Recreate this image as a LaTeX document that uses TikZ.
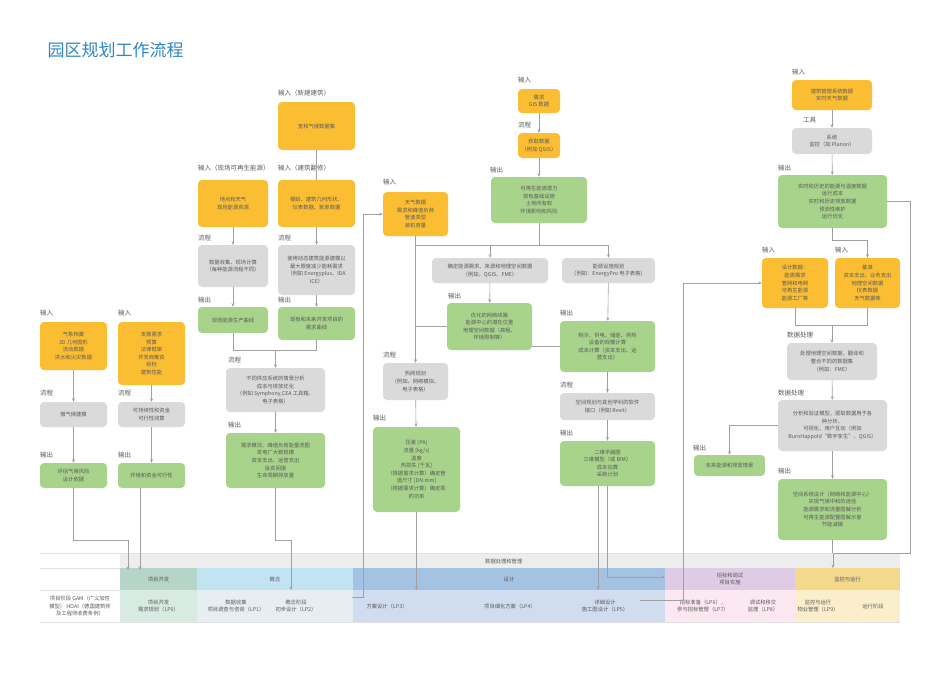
\documentclass[tikz,border=0pt]{standalone}
\usepackage{fontspec}
\newfontfamily\cjk{Noto Sans CJK SC}
\usetikzlibrary{arrows.meta,calc}
\definecolor{cOrange}{HTML}{FBBE33}
\definecolor{cGrey}{HTML}{DADADA}
\definecolor{cGreen}{HTML}{A8D38B}
\definecolor{cText}{HTML}{5A5A5A}
\definecolor{cLine}{HTML}{A0A0A0}
\definecolor{cTitle}{HTML}{2F86C6}
\definecolor{pDev}{HTML}{B5D5C8}
\definecolor{pCon}{HTML}{C2E3F2}
\definecolor{pDes}{HTML}{A4C2E2}
\definecolor{pTen}{HTML}{E0CBE4}
\definecolor{pOps}{HTML}{F4D98C}
\definecolor{qDev}{HTML}{D8EBE3}
\definecolor{qCon}{HTML}{E6EEF4}
\definecolor{qDes}{HTML}{D0DDF0}
\definecolor{qTen}{HTML}{FCE8F1}
\definecolor{qOps}{HTML}{FBEFCB}
\tikzset{
    box/.style={rounded corners=4pt, align=center, text=cText, inner sep=1pt, font=\cjk\fontsize{5.3}{7.6}\selectfont},
    ibox/.style={box, fill=cOrange},
    pbox/.style={box, fill=cGrey},
    obox/.style={box, fill=cGreen},
    lab/.style={anchor=west, text=cText, inner sep=0pt, font=\cjk\fontsize{6.5}{8}\selectfont},
    cell/.style={align=center, text=cText, inner sep=0pt, font=\cjk\fontsize{5.3}{7.6}\selectfont},
    line/.style={draw=cLine, line width=0.6pt},
    arr/.style={line, -{Stealth[length=3.5pt,width=3pt]}},
}
\begin{document}
\begin{tikzpicture}[x=1pt,y=-1pt]
    \useasboundingbox[fill=white] (0,0) rectangle (950,672);
    \node[anchor=west, text=cTitle, font=\cjk\fontsize{17}{20}\selectfont] (title) at (44,50) {园区规划工作流程};

    % left columns
    \node[lab] at (40,313) {输入};
    \node[ibox, minimum width=67, minimum height=48] (climate) at (73.5,346) {气象档案\\3D 几何图形\\流动数据\\洪水和火灾数据};
    \node[lab] at (40,393) {流程};
    \node[pbox, minimum width=67, minimum height=25] (micro) at (73.5,414.5) {微气候建模};
    \node[lab] at (40,455) {输出};
    \node[obox, minimum width=67, minimum height=25] (risk) at (73.5,475.5) {评估气候风险\\设计依据};
    \node[lab] at (118,313) {输入};
    \node[ibox, minimum width=67, minimum height=63] (brief) at (151.5,353.5) {发展需求\\预算\\法律框架\\开发商筹资\\目标\\建筑性能};
    \node[lab] at (118,393) {流程};
    \node[pbox, minimum width=67, minimum height=25] (sustain) at (151.5,414.5) {可持续性和资金\\可行性测算};
    \node[lab] at (118,455) {输出};
    \node[obox, minimum width=67, minimum height=25] (feas) at (151.5,475.5) {环境和资金可行性};

    % buildings and renewables
    \node[lab] at (198,168) {输入（现场可再生能源）};
    \node[ibox, minimum width=70, minimum height=47] (site) at (233,203.5) {地点和天气\\现场能源资源};
    \node[lab] at (198,238) {流程};
    \node[pbox, minimum width=70, minimum height=42] (collect) at (233,266) {数据收集、现场计算\\（每种能源流程不同）};
    \node[lab] at (198,300) {输出};
    \node[obox, minimum width=70, minimum height=26] (prod) at (233,320) {现场能源生产曲线};
    \node[lab] at (278,93) {输入（新建建筑）};
    \node[ibox, minimum width=77, minimum height=48] (climset) at (316.5,126) {宽和气候数据集};
    \node[lab] at (278,168) {输入（建筑翻修）};
    \node[ibox, minimum width=77, minimum height=47] (retro) at (316.5,203.5) {楼龄、建筑几何形状、\\仪表数据、账单数据};
    \node[lab] at (278,238) {流程};
    \node[pbox, minimum width=77, minimum height=50] (dynsim) at (316.5,270) {使用动态建筑能源建模以\\最大限度减少能耗需求\\（例如 Energyplus、IDA\\ICE）};
    \node[lab] at (278,300) {输出};
    \node[obox, minimum width=77, minimum height=33] (demand) at (316.5,323.5) {现有和未来开发项目的\\需求曲线};
    \node[lab] at (228,360) {流程};
    \node[pbox, minimum width=99, minimum height=44] (scen) at (275.5,390) {不同供应系统的情景分析\\成本与排放优化\\（例如 Symphony,CEA 工具箱、\\电子表格）};
    \node[lab] at (228,425) {输出};
    \node[obox, minimum width=99, minimum height=55] (result) at (275.5,460.5) {需求概况、峰值负荷能量流图\\发电厂大致规模\\资本支出、运营支出\\投资回报\\生命周期排放量};

    % networks
    \node[lab] at (383,182) {输入};
    \node[ibox, minimum width=65, minimum height=44] (weather) at (415.5,214) {天气数据\\需求和峰值负荷\\管道类型\\装机容量};
    \node[pbox, minimum width=116, minimum height=25] (determine) at (490,270.5) {确定能源需求、来源和地理空间数据\\（例如，QGIS、FME）};
    \node[lab] at (448,296) {输出};
    \node[obox, minimum width=85, minimum height=47] (network) at (489.5,326.5) {优化的网络线路\\能源中心的潜在位置\\地理空间数据（高程、\\环境限制等）};
    \node[lab] at (383,355) {流程};
    \node[pbox, minimum width=65, minimum height=37] (heatplan) at (415.5,381.5) {热网规划\\（例如、网络模拟、\\电子表格）};
    \node[lab] at (373,418) {输出};
    \node[obox, minimum width=87, minimum height=85] (hydraulic) at (416.5,469.5) {压差 [PA]\\流量 [kg/s]\\温度\\热损失 [千瓦]\\（根据需求计算）确定管\\道尺寸 [DN.mm]\\（根据需求计算）确定泵\\的功率};

    % energy centre
    \node[lab] at (518,80) {输入};
    \node[ibox, minimum width=42, minimum height=24] (need) at (539,101) {需求\\GIS 数据};
    \node[lab] at (518,125) {流程};
    \node[ibox, minimum width=42, minimum height=25] (fetch) at (539,145.5) {获取数据\\（例如 QGIS）};
    \node[lab] at (490,170) {输出};
    \node[obox, minimum width=96, minimum height=46] (potential) at (539,200) {可再生能源潜力\\现有基础设施\\土地所有权\\环境影响和风险};
    \node[pbox, minimum width=93, minimum height=25] (facility) at (608.5,270.5) {能源设施规划\\（例如：EnergyPro 电子表格）};
    \node[lab] at (560,313) {输出};
    \node[obox, minimum width=95, minimum height=51] (sizing) at (607.5,346.5) {制冷、供电、储能、供热\\设备的规模计算\\成本计算（资本支出、运\\营支出）};
    \node[lab] at (560,385) {流程};
    \node[pbox, minimum width=95, minimum height=27] (interface) at (607.5,406.5) {空间规划与其他学科的软件\\接口（例如 Revit）};
    \node[lab] at (560,433) {输出};
    \node[obox, minimum width=95, minimum height=45] (plans) at (607.5,463.5) {二维平面图\\三维模型（或 BIM）\\成本估算\\采购计划};

    % operation
    \node[lab] at (792,72) {输入};
    \node[ibox, minimum width=80, minimum height=30] (bms) at (832,95) {建筑管理系统数据\\实时天气数据};
    \node[lab] at (803,120) {工具};
    \node[pbox, minimum width=80, minimum height=26] (monitor) at (832,141) {系统\\监控（如 Planon）};
    \node[lab] at (778,168) {输出};
    \node[obox, minimum width=109, minimum height=53] (realtime) at (832.5,201.5) {实时和历史的能源与温度数据\\运行成本\\实时和历史排放数据\\预测性维护\\运行优化};
    \node[lab] at (762,250) {输入};
    \node[ibox, minimum width=66, minimum height=50] (designdata) at (795,283) {设计数据：\\能源需求\\管网和电网\\可再生能源\\能源工厂等};
    \node[lab] at (835,250) {输入};
    \node[ibox, minimum width=65, minimum height=50] (baseline) at (867.5,283) {基准\\资本支出，业务支出\\地理空间数据\\仪表数据\\天气数据等};
    \node[lab] at (787,335) {数据处理};
    \node[pbox, minimum width=90, minimum height=37] (process) at (832,361.5) {处理地理空间数据，翻译和\\整合不同的数据集\\（例如：FME）};
    \node[lab] at (778,393) {数据处理};
    \node[pbox, minimum width=109, minimum height=51] (analyse) at (832.5,425.5) {分析和验证模型，提取数据用于各\\种分析、\\可视化、用户互动（例如\\BuroHappold“数字孪生”、QGIS）};
    \node[lab] at (693,448) {输出};
    \node[obox, minimum width=71, minimum height=21] (future) at (729.5,465.5) {未来能源和排放情景};
    \node[lab] at (778,471) {输出};
    \node[obox, minimum width=109, minimum height=61] (spatial) at (832.5,509.5) {空间系统设计（网络和能源中心）\\实现气候中和的途径\\能源需求和流量图解分析\\可再生能源配置图解示意\\节能减碳};

    % phase table
    \fill[qDev] (120,590) rectangle (197,622);
    \fill[qCon] (197,590) rectangle (353,622);
    \fill[qDes] (353,590) rectangle (665,622);
    \fill[qTen] (665,590) rectangle (795,622);
    \fill[qOps] (795,590) rectangle (900,622);
    \fill[pDev] (120,568) rectangle (197,590);
    \fill[pCon] (197,568) rectangle (353,590);
    \fill[pDes] (353,568) rectangle (665,590);
    \fill[pTen] (665,568) rectangle (795,590);
    \fill[pOps] (795,568) rectangle (900,590);
    \fill[black!7] (120,553) rectangle (900,568);
    \draw[black!12, line width=0.4pt] (40,553) -- (900,553) (40,568) -- (120,568) (40,590) -- (120,590) (40,622) -- (900,622);
    \node[cell, anchor=west] (mgmt) at (485,561) {数据处理和管理};
    \node[cell] (devA) at (158.5,579) {项目开发};
    \node[cell] (conA) at (275,579) {概念};
    \node[cell] (desA) at (509,579) {设计};
    \node[cell] (tenA) at (730,579) {招标和调试\\项目实施};
    \node[cell] (opsA) at (847.5,579) {监控与运行};
    \node[cell] (gam) at (80,606) {项目阶段 GAM（广义加性\\模型） HOAI（德国建筑师\\及工程师收费条例）};
    \node[cell] (lp0) at (158.5,606) {项目开发\\需求规划（LP0）};
    \node[cell] (lp1) at (236,606) {数据收集\\项目调查与咨询（LP1）};
    \node[cell] (lp2) at (296,606) {概念阶段\\初步设计（LP2）};
    \node[cell] (lp3) at (387,606) {方案设计（LP3）};
    \node[cell] (lp4) at (510,606) {项目细化方案（LP4）};
    \node[cell] (lp5) at (605,606) {详细设计\\施工图设计（LP5）};
    \node[cell] (lp6) at (703,606) {招标准备（LP6），\\参与招标管理（LP7）};
    \node[cell] (lp8) at (763,606) {调试和移交\\监理（LP8）};
    \node[cell] (lp9) at (818,606) {监控与运行\\物业管理（LP9）};
    \node[cell] (run) at (873,606) {运行阶段};

    % connectors
    \draw[arr] (climate) -- (micro);
    \draw[arr] (micro) -- (risk);
    \draw[arr] (brief) -- (sustain);
    \draw[arr] (sustain) -- (feas);
    \draw[arr] (site) -- (collect);
    \draw[arr] (collect) -- (prod);
    \draw[line] (climset) -- (retro);
    \draw[arr] (retro) -- (dynsim);
    \draw[arr] (dynsim) -- (demand);
    \coordinate (j1) at (275.5,350);
    \draw[line] (prod) |- (j1);
    \draw[line] (demand) |- (j1);
    \draw[arr] (j1) -- (scen);
    \draw[arr] (scen) -- (result);

    \coordinate (sp) at (415.5,245);
    \coordinate (sq) at (608.5,245);
    \draw[line] (sp) -- (sq);
    \draw[arr] (weather) -- (heatplan);
    \draw[arr] (heatplan) -- (hydraulic);
    \draw[arr] (need) -- (fetch);
    \draw[arr] (fetch) -- (potential);
    \draw[line] (potential) -- (potential |- sp);
    \draw[arr] (determine |- sp) -- (determine);
    \draw[arr] (sq) -- (facility);
    \draw[arr] (determine) -- (network);
    \draw[line] (network.west) -- (network.west -| sp);
    \draw[line] (network.east |- sizing.west) -- (sizing.west);
    \draw[arr] (facility) -- (sizing);
    \draw[arr] (sizing) -- (interface);
    \draw[arr] (interface) -- (plans);

    \draw[arr] (bms) -- (monitor);
    \draw[arr] (monitor) -- (realtime);
    \draw[arr] (realtime.south) |- (867.5,240) -- (baseline.north);
    \coordinate (j2) at (832,325);
    \draw[line] (designdata) |- (j2);
    \draw[line] (baseline) |- (j2);
    \draw[arr] (j2) -- (process);
    \draw[arr] (process) -- (analyse);
    \draw[arr] (analyse.west) -| (future.north);
    \draw[arr] (analyse) -- (spatial);

    % to and from the phase table
    \coordinate (k1) at (73.5,540);
    \coordinate (b1) at (128,570);
    \draw[arr] (risk) -- (k1) -| (b1);
    \coordinate (b2) at (140,570);
    \draw[arr] (feas.south -| b2) -- (b2);
    \coordinate (k3) at (275.5,540);
    \coordinate (b3) at (291,590);
    \draw[arr] (result) -- (k3) -| (b3);
    \coordinate (b4) at (352,597);
    \coordinate (k4) at (363,214);
    \draw[arr] (b4) -| (k4) -- (weather.west);
    \coordinate (b5) at (416.5,590);
    \draw[arr] (hydraulic) -- (b5);
    \coordinate (b6) at (598,590);
    \draw[arr] (plans.south -| b6) -- (b6);
    \coordinate (b7) at (665,577);
    \draw[arr] (plans.south) |- (b7);
    \coordinate (b8) at (640,600);
    \coordinate (k8) at (683,283);
    \draw[arr] (b8) -| (k8) -- (designdata.west);
    \coordinate (k9) at (910,553);
    \coordinate (b9) at (833,568);
    \draw[arr] (realtime.east) -| (k9) -| (b9);
    \draw[line] (spatial) -- (spatial.south |- k9);
\end{tikzpicture}
\end{document}
